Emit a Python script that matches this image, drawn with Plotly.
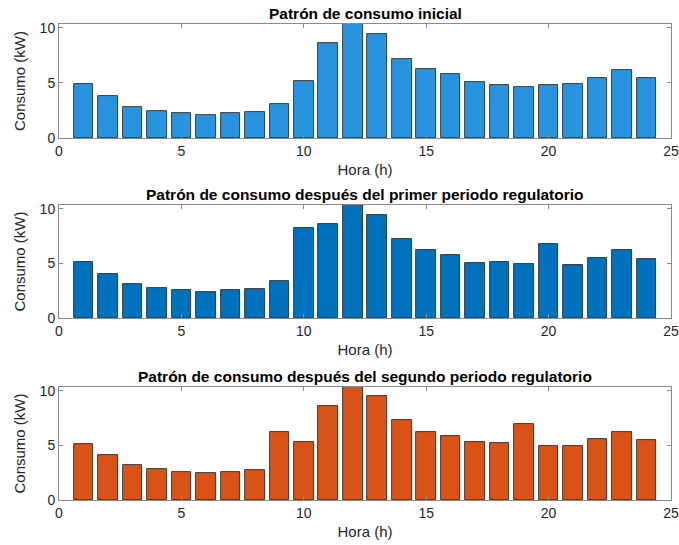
import plotly.graph_objects as go
from plotly.subplots import make_subplots

horas = list(range(1, 25))

consumo_inicial = [4.88, 3.77, 2.80, 2.41, 2.23, 2.08, 2.23, 2.32, 3.07, 5.21, 8.58, 10.8,
                   9.43, 7.20, 6.23, 5.78, 5.09, 4.79, 4.58, 4.79, 4.88, 5.45, 6.14, 5.45]
consumo_primer = [5.12, 4.03, 3.12, 2.73, 2.58, 2.39, 2.58, 2.67, 3.42, 8.27, 8.55, 10.8,
                  9.42, 7.24, 6.18, 5.79, 5.06, 5.09, 4.94, 6.73, 4.82, 5.48, 6.18, 5.39]
consumo_segundo = [5.12, 4.12, 3.21, 2.79, 2.58, 2.48, 2.58, 2.73, 6.21, 5.30, 8.58, 10.8,
                   9.48, 7.33, 6.24, 5.88, 5.33, 5.21, 6.97, 4.91, 4.91, 5.55, 6.24, 5.48]

titulos = [
    "Patrón de consumo inicial",
    "Patrón de consumo después del primer periodo regulatorio",
    "Patrón de consumo después del segundo periodo regulatorio",
]
series = [consumo_inicial, consumo_primer, consumo_segundo]
colores = ["#2894DF", "#0072BD", "#D95319"]

W, H = 679, 545
# pixel boxes of each axes (top, bottom)
cajas = [(24, 138), (205, 318), (387, 500)]
x_izq, x_der = 59, 671

fig = make_subplots(rows=3, cols=1)

for i, (valores, color) in enumerate(zip(series, colores)):
    fig.add_trace(
        go.Bar(x=horas, y=valores, width=0.8, marker=dict(color=color, line=dict(color="#1a1a1a", width=0.8)),
               showlegend=False),
        row=i + 1, col=1,
    )

font_fam = "Liberation Sans, Arial, sans-serif"
for i, (top, bot) in enumerate(cajas):
    dom_y = [1 - bot / H, 1 - top / H]
    n = "" if i == 0 else str(i + 1)
    fig.layout["xaxis" + n].update(
        domain=[x_izq / W, x_der / W], range=[0, 25], tickvals=[0, 5, 10, 15, 20, 25],
        ticks="inside", ticklen=4, tickcolor="#8a8a8a", showline=True, linecolor="#8a8a8a",
        linewidth=1, mirror="ticks", showgrid=False, zeroline=False, automargin=False,
        ticklabeloverflow="allow",
        tickfont=dict(size=14, color="#262626", family=font_fam),
        title=dict(text="Hora (h)", font=dict(size=15, color="#262626", family=font_fam), standoff=6),
    )
    fig.layout["yaxis" + n].update(
        domain=dom_y, range=[0, 10.33], tickvals=[0, 5, 10],
        ticks="inside", ticklen=4, tickcolor="#8a8a8a", showline=True, linecolor="#8a8a8a",
        linewidth=1, mirror="ticks", showgrid=False, zeroline=False, automargin=False,
        tickfont=dict(size=14, color="#262626", family=font_fam),
        title=dict(text="Consumo (kW)", font=dict(size=15, color="#262626", family=font_fam), standoff=10),
    )
    fig.add_annotation(
        text="<b>" + titulos[i] + "</b>", xref="paper", yref="paper",
        x=(x_izq + x_der) / 2 / W, y=1 - top / H, yanchor="bottom", xanchor="center",
        showarrow=False, yshift=0, font=dict(size=15.5, color="black", family=font_fam),
    )

fig.update_layout(
    width=W, height=H, margin=dict(l=0, r=0, t=0, b=0),
    plot_bgcolor="white", paper_bgcolor="white", bargap=0,
)

# drop the browser's default body margin so the figure fills the window
fig.write_html("out.html", config={"displayModeBar": False},
               post_script="document.body.style.margin='0';")
